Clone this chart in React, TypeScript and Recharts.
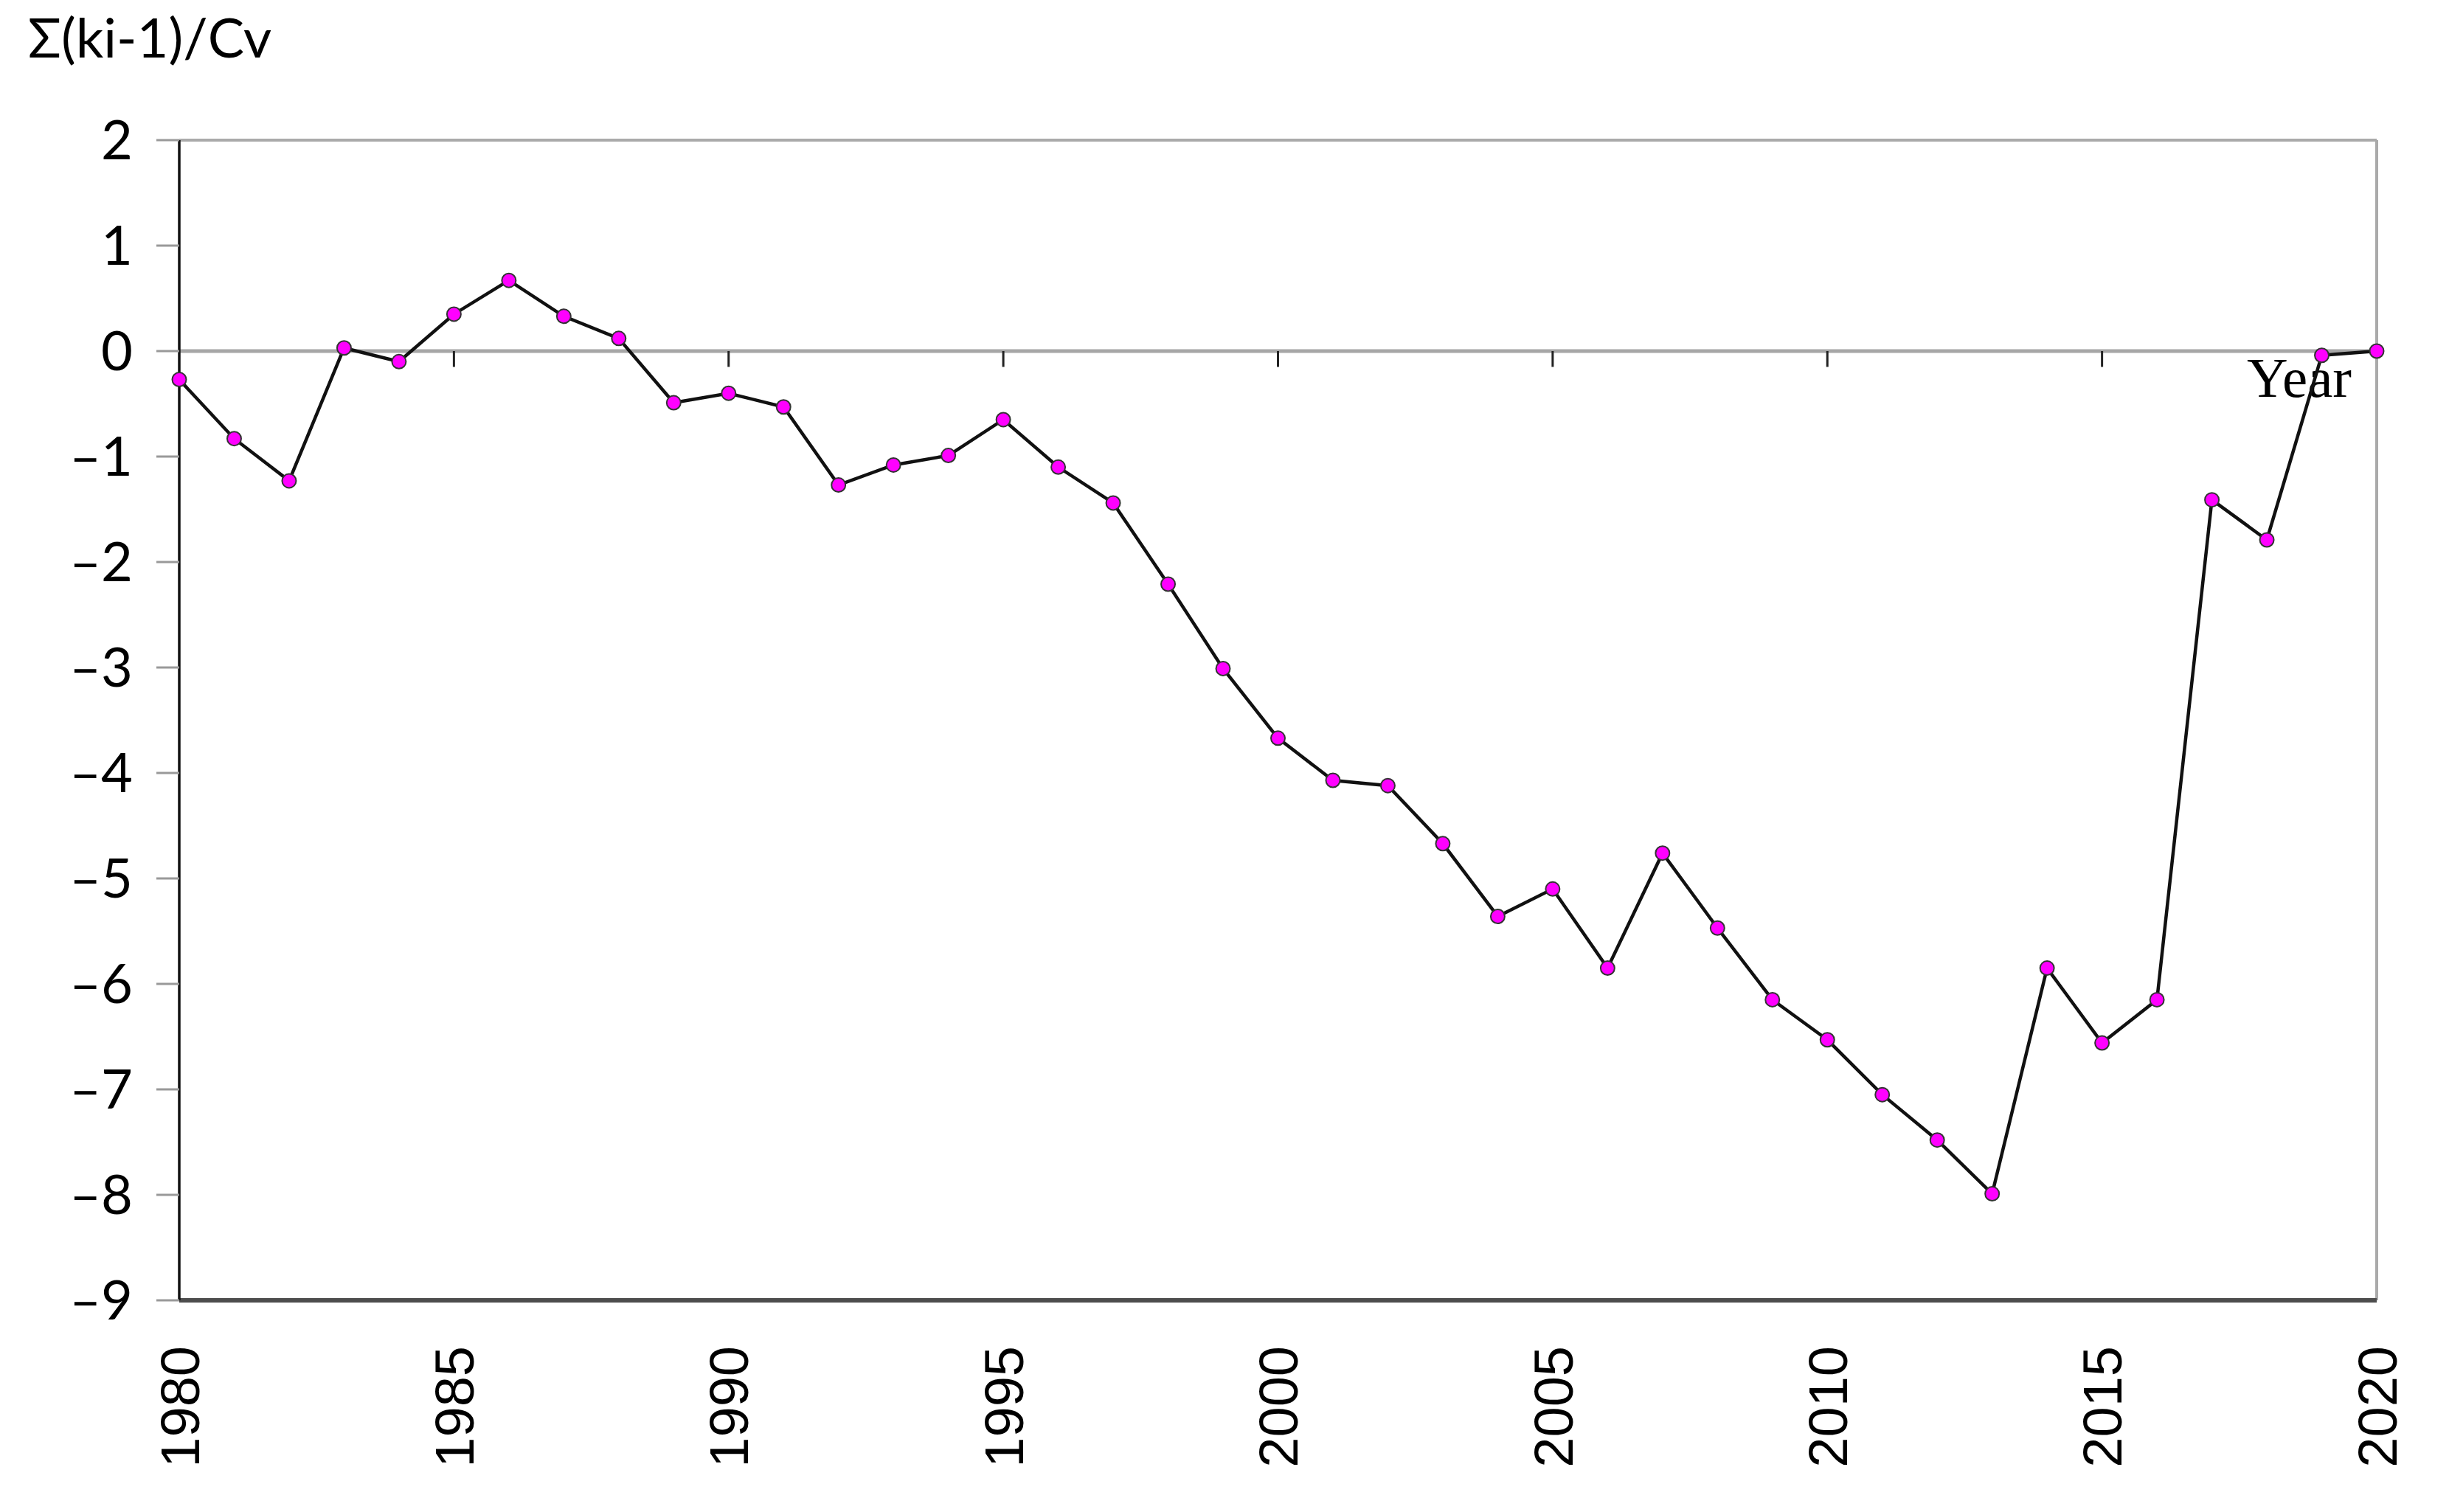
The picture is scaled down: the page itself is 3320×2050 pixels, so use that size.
import { Line, LineChart, ReferenceLine, XAxis, YAxis } from "recharts";

const years = [
  1980, 1981, 1982, 1983, 1984, 1985, 1986, 1987, 1988, 1989,
  1990, 1991, 1992, 1993, 1994, 1995, 1996, 1997, 1998, 1999,
  2000, 2001, 2002, 2003, 2004, 2005, 2006, 2007, 2008, 2009,
  2010, 2011, 2012, 2013, 2014, 2015, 2016, 2017, 2018, 2019, 2020,
];

const cumulative = [
  -0.27, -0.83, -1.23, 0.03, -0.1, 0.35, 0.67, 0.33, 0.12, -0.49,
  -0.4, -0.53, -1.27, -1.08, -0.99, -0.65, -1.1, -1.44, -2.21, -3.01,
  -3.67, -4.07, -4.12, -4.67, -5.36, -5.1, -5.85, -4.76, -5.47, -6.15,
  -6.53, -7.05, -7.48, -7.99, -5.85, -6.56, -6.15, -1.41, -1.79, -0.04, 0.0,
];

const yTicks = [2, 1, 0, -1, -2, -3, -4, -5, -6, -7, -8, -9];
const xTicks = [1980, 1985, 1990, 1995, 2000, 2005, 2010, 2015, 2020];
const zeroLineTicks = [1985, 1990, 1995, 2000, 2005, 2010, 2015];

const yLabel = "Σ(ki-1)/Cv";
const xLabel = "Year";

const data = years.map((year, i) => ({ year, value: cumulative[i] }));

function YearTick({ x, y, payload }: any) {
  return (
    <text
      x={x}
      y={y}
      dy="0.36em"
      transform={`rotate(-90, ${x}, ${y})`}
      textAnchor="end"
      fontFamily="'Liberation Sans', Arial, sans-serif"
      fontSize={74}
      fill="#000"
    >
      {payload.value}
    </text>
  );
}

function YearLabel({ viewBox }: any) {
  if (!viewBox) return null;
  return (
    <text
      x={viewBox.x + viewBox.width - 34}
      y={viewBox.y + 62}
      textAnchor="end"
      fontFamily="'Liberation Serif', 'Times New Roman', serif"
      fontSize={77}
      fill="#000"
    >
      {xLabel}
    </text>
  );
}

const formatY = (v: number) => (v < 0 ? `–${Math.abs(v)}` : `${v}`);

export default function App() {
  return (
    <div style={{ position: "fixed", left: 0, top: 0, width: 3320, height: 2050, background: "#fff" }}>
      <svg width={800} height={130} style={{ position: "absolute", left: 0, top: 0 }}>
        <text x={38} y={78} fontFamily="Lato, 'Open Sans', sans-serif" fontSize={74} fill="#000">
          {yLabel}
        </text>
      </svg>
      <LineChart
        width={3320}
        height={2050}
        data={data}
        margin={{ top: 190, right: 98, bottom: 0, left: 0 }}
      >
        <XAxis
          dataKey="year"
          type="number"
          domain={[1980, 2020]}
          ticks={xTicks}
          interval={0}
          height={287}
          tickSize={0}
          tickMargin={62}
          tickLine={false}
          axisLine={{ stroke: "#4d4d4d", strokeWidth: 6 }}
          tick={<YearTick />}
        />
        <YAxis
          type="number"
          domain={[-9, 2]}
          ticks={yTicks}
          interval={0}
          width={243}
          tickSize={31}
          tickMargin={32}
          axisLine={{ stroke: "#111", strokeWidth: 3.5 }}
          tickLine={{ stroke: "#999", strokeWidth: 3 }}
          tick={{ fontFamily: "Lato, 'Open Sans', sans-serif", fontSize: 74, fill: "#000" }}
          tickFormatter={formatY}
        />
        <ReferenceLine y={2} stroke="#aaa" strokeWidth={4} />
        <ReferenceLine x={2020} stroke="#aaa" strokeWidth={4} />
        <ReferenceLine y={0} stroke="#a6a6a6" strokeWidth={5} label={<YearLabel />} />
        {zeroLineTicks.map((yr) => (
          <ReferenceLine
            key={yr}
            segment={[
              { x: yr, y: 0 },
              { x: yr, y: -0.15 },
            ]}
            stroke="#222"
            strokeWidth={3}
          />
        ))}
        <Line
          type="linear"
          dataKey="value"
          stroke="#111"
          strokeWidth={4.5}
          dot={{ r: 9.5, fill: "#ff00ff", stroke: "#333", strokeWidth: 2 }}
          activeDot={false}
          isAnimationActive={false}
        />
      </LineChart>
    </div>
  );
}
